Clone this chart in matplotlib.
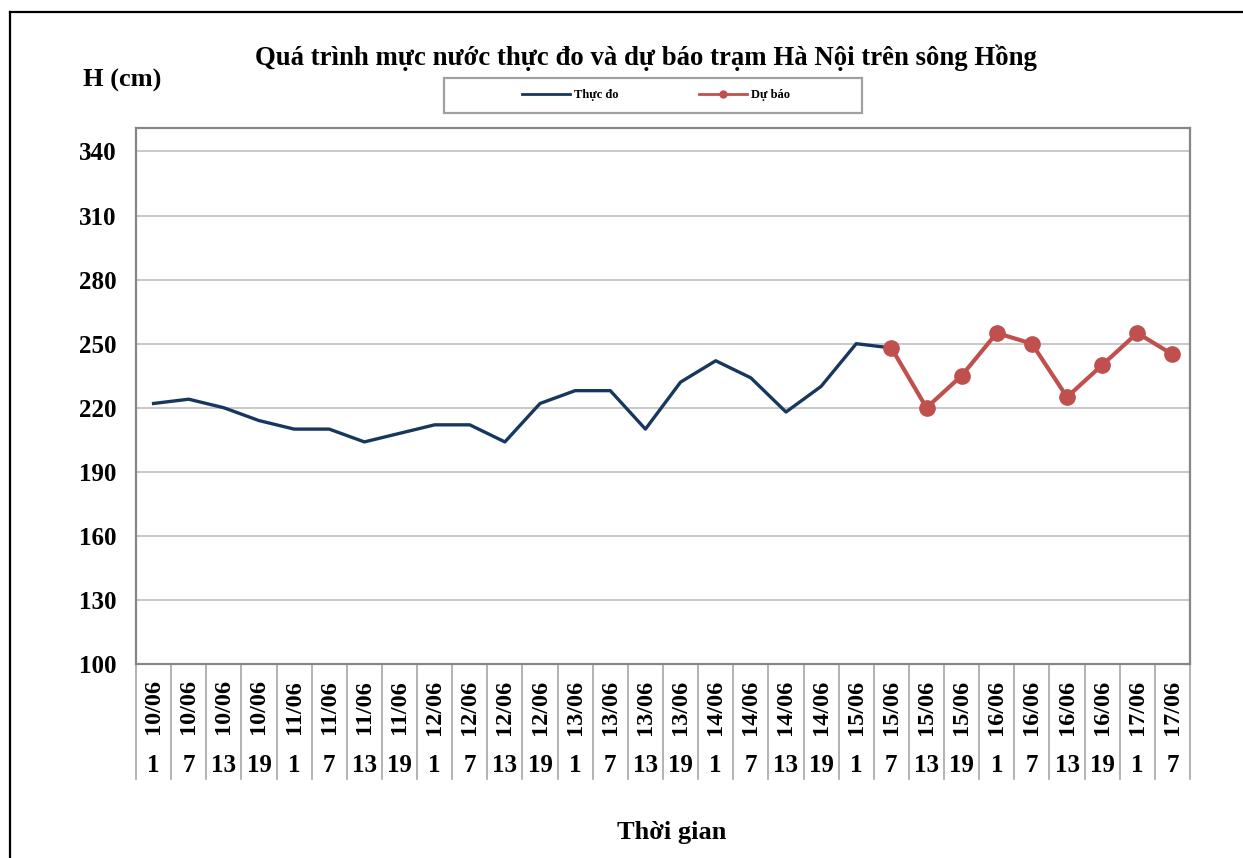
import numpy as np
import matplotlib
matplotlib.use("Agg")
import matplotlib.pyplot as plt
from matplotlib.lines import Line2D
from matplotlib.patches import Rectangle

# categories: date + hour of observation
dates = ["10/06", "10/06", "10/06", "10/06", "11/06", "11/06", "11/06", "11/06",
         "12/06", "12/06", "12/06", "12/06", "13/06", "13/06", "13/06", "13/06",
         "14/06", "14/06", "14/06", "14/06", "15/06", "15/06", "15/06", "15/06",
         "16/06", "16/06", "16/06", "16/06", "17/06", "17/06"]
hours = ["1", "7", "13", "19", "1", "7", "13", "19", "1", "7", "13", "19",
         "1", "7", "13", "19", "1", "7", "13", "19", "1", "7", "13", "19",
         "1", "7", "13", "19", "1", "7"]

# observed water level (cm), first 22 slots
thuc_do = [222, 224, 220, 214, 210, 210, 204, 208, 212, 212, 204, 222,
           228, 228, 210, 232, 242, 234, 218, 230, 250, 248]
# forecast, starts at the last observed slot
du_bao = [248, 220, 235, 255, 250, 225, 240, 255, 245]

yticks = [100, 130, 160, 190, 220, 250, 280, 310, 340]

W, H = 1243, 858
plt.rcParams["font.family"] = ["Liberation Serif", "DejaVu Serif"]
plt.rcParams["font.weight"] = "bold"

fig = plt.figure(figsize=(W / 100, H / 100), dpi=100)
ax_l, ax_r, ax_t, ax_b = 136, 1190, 128, 664
ax = fig.add_axes([ax_l / W, 1 - ax_b / H, (ax_r - ax_l) / W, (ax_b - ax_t) / H])

n = len(dates)
x_obs = np.arange(len(thuc_do))
x_fc = np.arange(len(thuc_do) - 1, len(thuc_do) - 1 + len(du_bao))

ax.plot(x_obs, thuc_do, color="#17375E", lw=2.4, zorder=3)
ax.plot(x_fc, du_bao, color="#C0504D", lw=3, marker="o", ms=11, zorder=4)

ax.set_xlim(-0.5, n - 0.5)
ax.set_ylim(100, 351)
ax.set_yticks(yticks)
ax.set_yticklabels([str(v) for v in yticks], fontsize=18, fontweight="bold")
ax.tick_params(axis="y", length=0, pad=14)
ax.set_xticks([])
ax.grid(axis="y", color="#BFBFBF", lw=1.2)
ax.set_axisbelow(True)
for s in ax.spines.values():
    s.set_color("#878787")
    s.set_linewidth(1.6)

# category table under the axis
axh = ax_b - ax_t
trans = ax.get_xaxis_transform()
for i in range(n):
    ax.text(i, -(707 - ax_b) / axh, dates[i], transform=trans, rotation=90,
            ha="center", va="center", fontsize=17.5, fontweight="bold")
    ax.text(i, -(765 - ax_b) / axh, hours[i], transform=trans,
            ha="center", va="center", fontsize=18, fontweight="bold")
for k in range(n + 1):
    ax.plot([k - 0.5, k - 0.5], [0, -(779 - ax_b) / axh], transform=trans,
            color="#A6A6A6", lw=1.2, clip_on=False)

fig.text(646 / W, 1 - 58 / H, "Quá trình mực nước thực đo và dự báo trạm Hà Nội trên sông Hồng",
         ha="center", va="center", fontsize=19.3, fontweight="bold")
fig.text(83 / W, 1 - 80 / H, "H (cm)", ha="left", va="center", fontsize=19, fontweight="bold")
fig.text(672 / W, 1 - 832 / H, "Thời gian", ha="center", va="center", fontsize=19, fontweight="bold")

# legend box
fig.patches.append(Rectangle((444 / W, 1 - 113 / H), 418 / W, 35 / H, transform=fig.transFigure,
                             fill=False, edgecolor="#A0A0A0", lw=1.6))
handles = [Line2D([], [], color="#17375E", lw=2),
           Line2D([], [], color="#C0504D", lw=2, marker="o", ms=5)]
fig.legend(handles, ["Thực đo", "Dự báo"], loc="center", bbox_to_anchor=(656 / W, 1 - 95 / H),
           ncol=2, frameon=False, prop={"size": 9, "weight": "bold"},
           handlelength=3.8, columnspacing=6.5, handletextpad=0.3)

# outer chart frame
fig.add_artist(Line2D([10 / W, 10 / W], [0, 1 - 12 / H], color="black", lw=1.6))
fig.add_artist(Line2D([10 / W, 1], [1 - 12 / H, 1 - 12 / H], color="black", lw=1.6))

fig.savefig("out.png", dpi=100)
